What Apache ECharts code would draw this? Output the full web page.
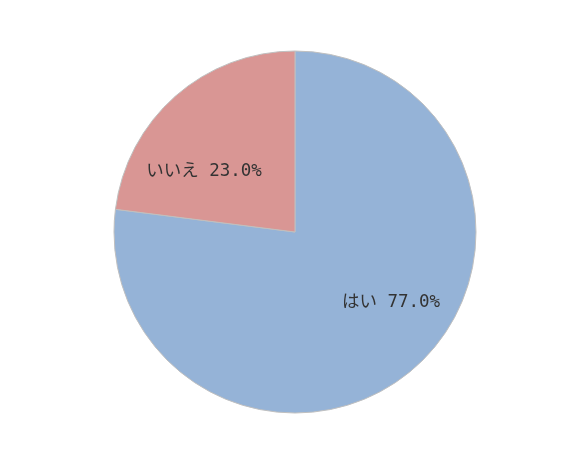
<!DOCTYPE html>
<html>
<head>
<meta charset="utf-8">
<script src="https://cdn.jsdelivr.net/npm/echarts@6/dist/echarts.min.js"></script>
<style>
html,body{margin:0;padding:0;background:#fff;}
#chart{width:579px;height:468px;}
</style>
</head>
<body>
<div id="chart"></div>
<script>
var categories = ['はい', 'いいえ'];
var values = [77.0, 23.0];
var colors = ['#95B3D7', '#D99694'];
var labelPos = [[391, 302], [204, 171]];

var chart = echarts.init(document.getElementById('chart'), null, {renderer: 'canvas'});
chart.setOption({
  backgroundColor: '#ffffff',
  animation: false,
  series: [{
    type: 'pie',
    center: [295, 232],
    radius: 181,
    startAngle: 90,
    clockwise: true,
    data: categories.map(function (c, i) {
      return {name: c, value: values[i], itemStyle: {color: colors[i]}};
    }),
    itemStyle: {borderColor: '#c0c0c0', borderWidth: 1},
    label: {
      show: true,
      position: 'inside',
      color: '#333333',
      fontSize: 17.5,
      fontFamily: '"DejaVu Sans Mono", "Noto Sans CJK JP", monospace',
      formatter: function (p) { return p.name + ' ' + p.value.toFixed(1) + '%'; }
    },
    labelLine: {show: false},
    emphasis: {disabled: true},
    labelLayout: function (p) {
      var s = labelPos[p.dataIndex];
      return {x: s[0], y: s[1], align: 'center', verticalAlign: 'middle'};
    }
  }]
});
</script>
</body>
</html>
